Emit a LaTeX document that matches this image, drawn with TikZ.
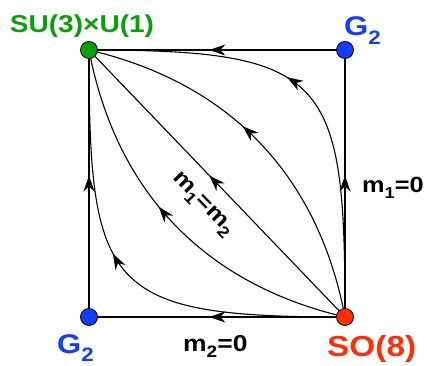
\documentclass[tikz,border=0pt]{standalone}
\usepackage{fontspec}
\newfontfamily\labfont{Liberation Sans}[FakeStretch=1.15]
\usetikzlibrary{arrows.meta,decorations.markings,backgrounds}
\definecolor{sugreen}{RGB}{10,160,10}
\definecolor{gblue}{RGB}{20,60,255}
\definecolor{sored}{RGB}{255,45,10}
\newcommand\lowsub[1]{\raisebox{-0.3em}{\scalebox{0.72}{#1}}}

\begin{document}
\begin{tikzpicture}[x=1pt,y=1pt,
  dot/.style={circle,draw=black,line width=0.8pt,inner sep=0pt,minimum size=17pt},
  flow/.style={line width=1.1pt,postaction={decorate},
    decoration={markings,mark=at position #1 with {\arrow{Stealth[length=16pt,width=11pt,inset=5pt]}}}},
  flow/.default=0.53,
  lab/.style={inner sep=0pt,font=\labfont\bfseries\fontsize{#1}{#1}\selectfont}]
\useasboundingbox (0,0) rectangle (427,365);
% fixed points
\node[dot,fill=sugreen] (su3) at (89,315) {};
\node[dot,fill=gblue] (g2top) at (345,315) {};
\node[dot,fill=gblue] (g2bot) at (89,48) {};
\node[dot,fill=sored] (so8) at (345,48) {};
\begin{scope}[on background layer]
% edges of the square
\draw[flow] (g2top.center) -- (su3.center);
\draw[flow] (so8.center) -- (g2top.center);
\draw[flow] (g2bot.center) -- (su3.center);
\draw[flow] (so8.center) -- (g2bot.center);
% flows from SO(8)
\draw[flow] (so8.center) -- (su3.center);
\draw[flow=0.56] (so8.center) to[bend right=33] (su3.center);
\draw[flow=0.56] (so8.center) to[bend left=33] (su3.center);
\draw[flow=0.56] (so8.center) .. controls +(0,240) and +(240,0) .. (su3.center);
\draw[flow=0.55] (so8.center) .. controls +(-240,0) and +(0,-240) .. (su3.center);
\end{scope}
% labels
\node[lab=24.4,text=sugreen,anchor=base] (su3lab) at (82,332) {SU(3)×U(1)};
\node[lab=27,text=gblue,anchor=base west] (g2toplab) at (344,329) {G\lowsub{2}};
\node[lab=27,text=gblue,anchor=base west] (g2botlab) at (57,12) {G\lowsub{2}};
\node[lab=29,text=sored,anchor=base west] (so8lab) at (327,9) {SO(8)};
\node[lab=23,anchor=base west] (m2lab) at (183,14) {m\lowsub{2}=0};
\node[lab=22,anchor=base west] (m1lab) at (362,173) {m\lowsub{1}=0};
\node[lab=22,rotate=-46] (difflab) at (202,160) {m\lowsub{1}=m\lowsub{2}};
\end{tikzpicture}
\end{document}
